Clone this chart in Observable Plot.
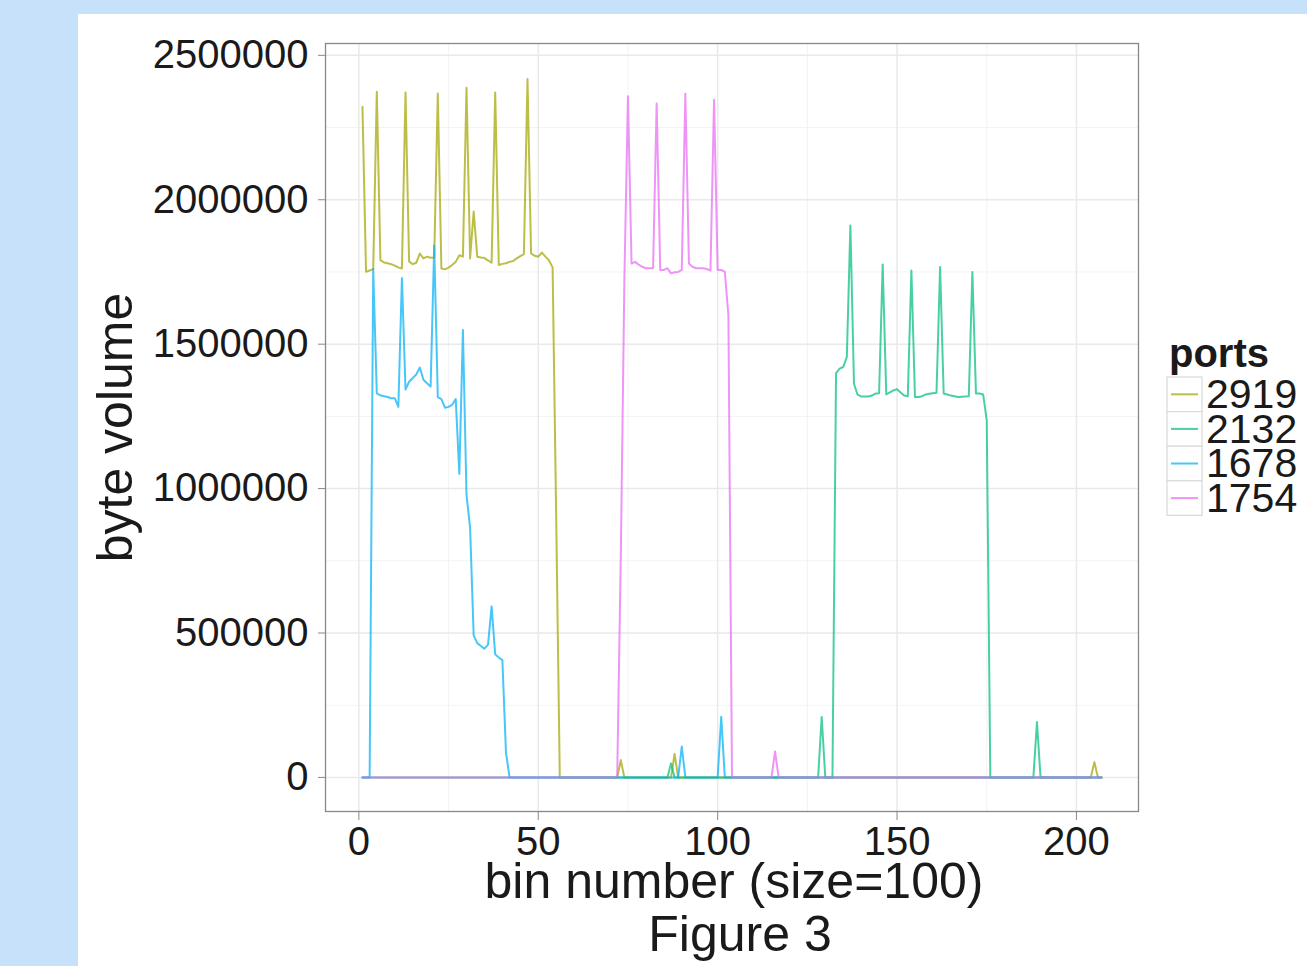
<!DOCTYPE html>
<html>
<head>
<meta charset="utf-8">
<script src="https://cdn.jsdelivr.net/npm/d3@7"></script>
<script src="https://cdn.jsdelivr.net/npm/@observablehq/plot@0.6"></script>
<style>
  html, body { margin: 0; padding: 0; width: 1307px; height: 966px; overflow: hidden; background: #c7e1fb; font-family: "Liberation Sans", Arial, sans-serif; }
  #card { position: absolute; left: 78px; top: 14px; width: 1229px; height: 952px; background: #ffffff; }
  #chart { position: absolute; left: 0; top: 0; }
  #legend { position: absolute; left: 0; top: 0; overflow: visible; }
</style>
</head>
<body>
<div id="card">
  <div id="chart"></div>
  <svg id="legend" width="1229" height="952"></svg>
</div>
<script>
// ---------- data ----------
const ports = ["2919", "2132", "1678", "1754"];
const portColors = ["#A3A500", "#00BF7D", "#00B0F6", "#E76BF3"];

const bins2919 = [1,2,3,4,5,6,7,8,9,10,11,12,13,14,15,16,17,18,19,20,21,22,23,24,25,26,27,28,29,30,31,32,33,34,35,36,37,38,39,40,41,42,43,44,45,46,47,48,49,50,51,52,53,54,55,56,72,73,74,87,88,89,204,205,206,207];
const vol2919 = [2322000,1751000,1755000,1760000,2374000,1791000,1783000,1780000,1777000,1772000,1766000,1762000,2371000,1786000,1777000,1782000,1814000,1797000,1803000,1799000,1800000,2368000,1762000,1759000,1765000,1774000,1785000,1808000,1803000,2388000,1797000,1959000,1803000,1800000,1798000,1790000,1782000,2371000,1774000,1778000,1780000,1785000,1788000,1797000,1805000,1812000,2418000,1814000,1806000,1803000,1817000,1803000,1790000,1766000,900000,0,0,60000,0,0,81000,0,0,53000,0,0];

const bins2132 = [1,86,87,88,128,129,130,132,133,134,135,136,137,138,139,140,141,142,143,144,145,146,147,148,149,150,151,152,153,154,155,156,157,158,159,160,161,162,163,164,165,166,167,168,169,170,171,172,173,174,175,176,188,189,190,207];
const vol2132 = [0,0,48000,0,0,209000,0,0,1400000,1415000,1421000,1455000,1911000,1363000,1325000,1319000,1319000,1319000,1322000,1329000,1330000,1776000,1326000,1333000,1340000,1344000,1333000,1322000,1320000,1755000,1317000,1317000,1320000,1326000,1328000,1330000,1332000,1767000,1329000,1326000,1322000,1320000,1317000,1318000,1319000,1320000,1750000,1329000,1329000,1326000,1236000,0,0,192000,0,0];

const bins1678 = [1,3,4,5,6,7,8,9,10,11,12,13,14,15,16,17,18,19,20,21,22,23,24,25,26,27,28,29,30,31,32,33,34,35,36,37,38,39,40,41,42,89,90,91,100,101,102,207];
const vol1678 = [0,0,1760000,1330000,1323000,1320000,1317000,1313000,1313000,1283000,1729000,1343000,1370000,1383000,1395000,1419000,1377000,1365000,1353000,1842000,1317000,1310000,1280000,1283000,1290000,1310000,1051000,1549000,978000,865000,492000,465000,455000,446000,460000,592000,426000,415000,406000,86000,0,0,107000,0,0,210000,0,0];

const bins1754 = [1,72,73,74,75,76,77,78,79,80,81,82,83,84,85,86,87,88,89,90,91,92,93,94,95,96,97,98,99,100,101,102,103,104,115,116,117,207];
const vol1754 = [0,0,760000,1720000,2358000,1779000,1785000,1775000,1768000,1763000,1763000,1763000,2333000,1757000,1757000,1763000,1745000,1749000,1750000,1757000,2367000,1779000,1768000,1763000,1763000,1763000,1760000,1755000,2346000,1757000,1757000,1750000,1600000,0,0,90000,0,0];

const xTicks = [0, 50, 100, 150, 200];
const xMinor = [25, 75, 125, 175];
const yTicks = [0, 500000, 1000000, 1500000, 2000000, 2500000];
const yMinor = [250000, 750000, 1250000, 1750000, 2250000];

const yTitle = "byte volume";
const xTitle = "bin number (size=100)";
const figCaption = "Figure 3";
const legendTitle = "ports";

// ---------- build table ----------
const seriesList = [
  {port: "2919", bins: bins2919, vals: vol2919},
  {port: "2132", bins: bins2132, vals: vol2132},
  {port: "1678", bins: bins1678, vals: vol1678},
  {port: "1754", bins: bins1754, vals: vol1754}
];
const rows = seriesList.flatMap(s => s.bins.map((b, i) => ({bin: b, volume: s.vals[i], port: s.port})));

const textColor = "#1a1a1a";
const FONT = "Liberation Sans, Arial, sans-serif";

const plot = Plot.plot({
  width: 1229,
  height: 952,
  marginLeft: 247,
  marginRight: 169,
  marginTop: 29,
  marginBottom: 155,
  style: {background: "transparent", fontFamily: FONT, overflow: "visible"},
  x: {domain: [-9.3, 217.3]},
  y: {domain: [-118000, 2541000]},
  color: {domain: ports, range: portColors},
  marks: [
    Plot.frame({fill: "#ffffff", stroke: null}),
    Plot.gridX(xMinor, {stroke: "#f3f3f3", strokeOpacity: 1, strokeWidth: 1}),
    Plot.gridY(yMinor, {stroke: "#f3f3f3", strokeOpacity: 1, strokeWidth: 1}),
    Plot.gridX(xTicks, {stroke: "#e9e9e9", strokeOpacity: 1, strokeWidth: 1.5}),
    Plot.gridY(yTicks, {stroke: "#e9e9e9", strokeOpacity: 1, strokeWidth: 1.5}),
    Plot.line(rows, {x: "bin", y: "volume", z: "port", stroke: "port", strokeWidth: 2, strokeOpacity: 0.72, curve: "linear"}),
    Plot.frame({stroke: "#888888", strokeWidth: 1.3}),
    Plot.axisY(yTicks, {tickSize: 7, tickPadding: 10, fontSize: 40, stroke: "#888888", fill: textColor, tickFormat: d3.format("d"), label: null}),
    Plot.axisX(xTicks, {tickSize: 9, tickPadding: 6, fontSize: 40, stroke: "#888888", fill: textColor, tickFormat: d3.format("d"), label: null}),
    Plot.text([yTitle], {frameAnchor: "left", textAnchor: "middle", lineAnchor: "middle", dx: -210, rotate: -90, fontSize: 50, fill: textColor}),
    Plot.text([xTitle], {frameAnchor: "bottom", textAnchor: "middle", lineAnchor: "middle", dy: 70, dx: 2, fontSize: 50, fill: textColor}),
    Plot.text([figCaption], {frameAnchor: "bottom", textAnchor: "middle", lineAnchor: "middle", dy: 123, dx: 8, fontSize: 50, fill: textColor})
  ]
});
document.getElementById("chart").appendChild(plot);

// ---------- legend ----------
const color = plot.scale("color");
const lg = d3.select("#legend").style("font-family", FONT);
lg.append("text")
  .attr("x", 1091).attr("y", 353)
  .attr("font-size", 40).attr("font-weight", "bold").attr("fill", textColor)
  .text(legendTitle);
const rowTop = 363, rowH = 34.6, keyX = 1089, keyW = 35;
ports.forEach((p, i) => {
  const y0 = rowTop + i * rowH;
  lg.append("rect").attr("x", keyX).attr("y", y0).attr("width", keyW).attr("height", rowH)
    .attr("fill", "#ffffff").attr("stroke", "#d9d9d9").attr("stroke-width", 1.2);
  lg.append("line").attr("x1", keyX + 4).attr("x2", keyX + keyW - 4)
    .attr("y1", y0 + rowH / 2).attr("y2", y0 + rowH / 2)
    .attr("stroke", color.apply(p)).attr("stroke-opacity", 0.72).attr("stroke-width", 2);
  lg.append("text").attr("x", 1128).attr("y", y0 + 31)
    .attr("font-size", 41).attr("fill", textColor).text(p);
});
</script>
</body>
</html>
